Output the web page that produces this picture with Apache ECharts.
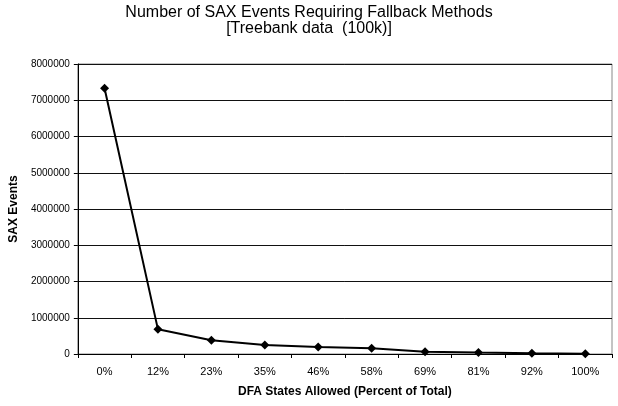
<!DOCTYPE html>
<html><head><meta charset="utf-8">
<script src="https://cdn.jsdelivr.net/npm/echarts@6/dist/echarts.min.js"></script>
<style>html,body{margin:0;padding:0;background:#fff}#c{width:618px;height:406px}</style>
</head><body><div id="c"></div>
<script>
const categories = ['0%','12%','23%','35%','46%','58%','69%','81%','92%','100%'];
const saxEvents = [7330000, 680000, 380000, 250000, 190000, 157000, 65000, 40000, 20000, 5000];
const yTicks = [0,1000000,2000000,3000000,4000000,5000000,6000000,7000000,8000000];

const chart = echarts.init(document.getElementById('c'));
const font = 'Liberation Sans, Arial, sans-serif';
chart.setOption({
  animation: false,
  title: {
    text: 'Number of SAX Events Requiring Fallback Methods\n[Treebank data  (100k)]',
    left: 'center', top: 0,
    textStyle: { fontFamily: font, fontSize: 16, fontWeight: 'normal', color: '#000', lineHeight: 16 }
  },
  grid: { left: 75, right: 6, top: 64, bottom: 52, show: true, borderColor: '#888', borderWidth: 1 },
  xAxis: {
    type: 'category', data: categories, boundaryGap: true,
    name: 'DFA States Allowed (Percent of Total)', nameLocation: 'middle', nameGap: 32,
    nameTextStyle: { fontFamily: font, fontSize: 12, fontWeight: 'bold', color: '#000' },
    axisLine: { lineStyle: { color: '#000', width: 1 } },
    axisTick: { show: true, length: 4, inside: false, lineStyle: { color: '#000' } },
    axisLabel: { fontFamily: font, fontSize: 11, color: '#000', margin: 12 }
  },
  yAxis: {
    type: 'value', min: 0, max: yTicks[yTicks.length-1], interval: 1000000,
    name: 'SAX Events', nameLocation: 'middle', nameGap: 52, nameRotate: 90,
    nameTextStyle: { fontFamily: font, fontSize: 12, fontWeight: 'bold', color: '#000' },
    axisLine: { show: true, lineStyle: { color: '#000', width: 1 } },
    axisTick: { show: true, length: 4, lineStyle: { color: '#000' } },
    axisLabel: { fontFamily: font, fontSize: 10, color: '#000', margin: 8, formatter: v => String(v) },
    splitLine: { show: true, lineStyle: { color: '#111', width: 1 } }
  },
  series: [{
    type: 'line', data: saxEvents,
    symbol: 'diamond', symbolSize: 9,
    lineStyle: { color: '#000', width: 2 },
    itemStyle: { color: '#000' }
  }]
});
</script></body></html>
